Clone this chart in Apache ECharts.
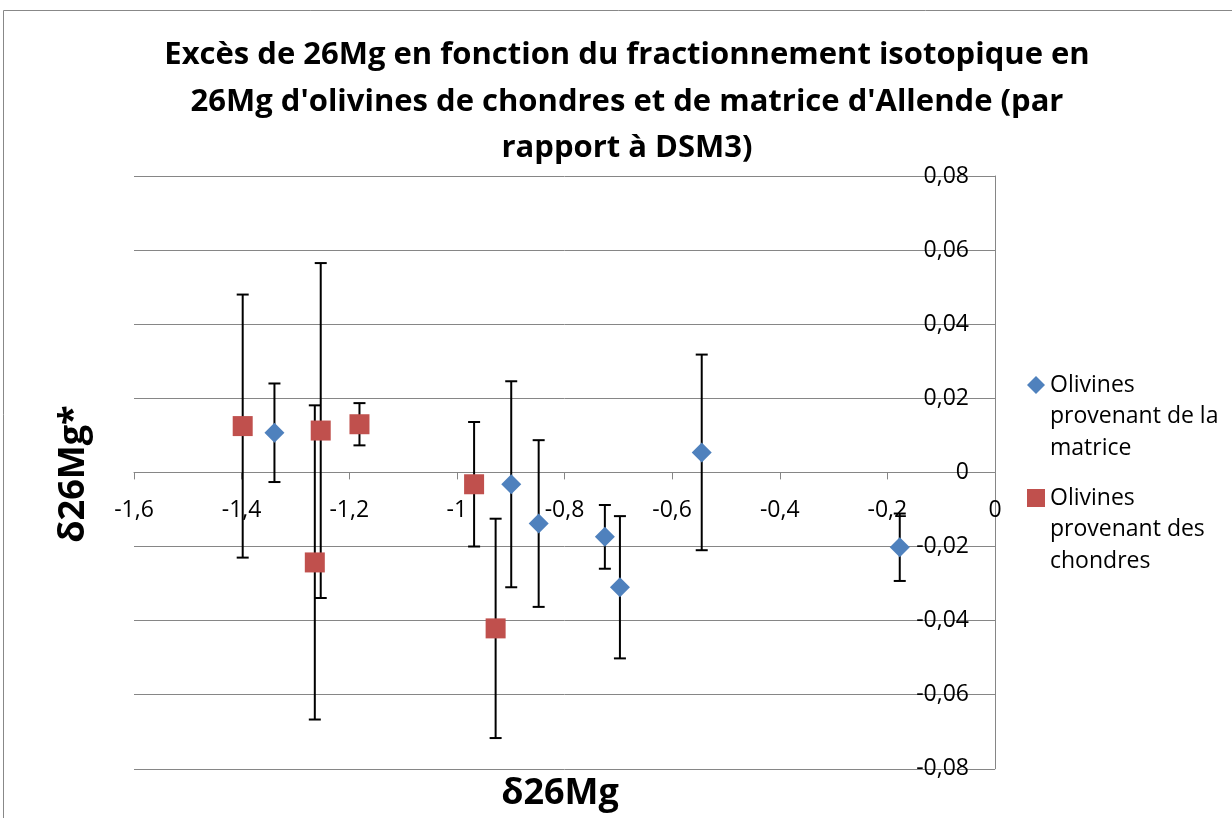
<!DOCTYPE html>
<html>
<head>
<meta charset="utf-8">
<script src="https://cdn.jsdelivr.net/npm/echarts@6/dist/echarts.min.js"></script>
<style>
html,body{margin:0;padding:0;background:#fff;}
#chart{width:1232px;height:818px;}
</style>
</head>
<body>
<div id="chart"></div>
<script>
// ---- Data ----
const matrixName = 'Olivines provenant de la matrice';
const chondresName = 'Olivines provenant des chondres';
const matrixX   = [-1.339, -0.899, -0.848, -0.725, -0.697, -0.545, -0.177];
const matrixY   = [0.0107, -0.0032, -0.0138, -0.0174, -0.0310, 0.0054, -0.0202];
const matrixErr = [0.0133, 0.0278, 0.0225, 0.0086, 0.0192, 0.0264, 0.0091];

const chondresX   = [-1.398, -1.264, -1.253, -1.181, -0.968, -0.928];
const chondresY   = [0.0125, -0.0243, 0.0113, 0.0130, -0.0032, -0.0421];
const chondresErr = [0.0355, 0.0424, 0.0452, 0.0057, 0.0168, 0.0296];

const xTickValues = [-1.6, -1.4, -1.2, -1, -0.8, -0.6, -0.4, -0.2, 0];
const xTickLabels = ['-1,6', '-1,4', '-1,2', '-1', '-0,8', '-0,6', '-0,4', '-0,2', '0'];
const yTickValues = [-0.08, -0.06, -0.04, -0.02, 0, 0.02, 0.04, 0.06, 0.08];
const yTickLabels = ['-0,08', '-0,06', '-0,04', '-0,02', '0', '0,02', '0,04', '0,06', '0,08'];

const titleText = "Excès de 26Mg en fonction du fractionnement isotopique en\n26Mg d'olivines de chondres et de matrice d'Allende (par\nrapport à DSM3)";
const xTitle = 'δ26Mg';
const yTitle = 'δ26Mg*';
const legendLines = {};
legendLines[matrixName] = ['Olivines', 'provenant de la', 'matrice'];
legendLines[chondresName] = ['Olivines', 'provenant des', 'chondres'];

// ---- Build ----
const FONT = '"Open Sans", "Liberation Sans", sans-serif';
const BLUE = '#4F81BD', RED = '#C0504D', GRID = '#868686';
const GRID_H = 592.8;

function zip3(a, b, c) { return a.map((v, i) => [v, b[i], c[i]]); }
function lookup(values, labels, v) {
  for (let i = 0; i < values.length; i++) if (Math.abs(values[i] - v) < 1e-9) return labels[i];
  return '';
}
function errRender(params, api) {
  const x = api.value(0), y = api.value(1), e = api.value(2);
  const t = api.coord([x, y + e]), b = api.coord([x, y - e]);
  const hw = 6;
  const st = { stroke: '#000', lineWidth: 2 };
  return {
    type: 'group',
    children: [
      { type: 'line', shape: { x1: t[0], y1: t[1], x2: b[0], y2: b[1] }, style: st },
      { type: 'line', shape: { x1: t[0] - hw, y1: t[1], x2: t[0] + hw, y2: t[1] }, style: st },
      { type: 'line', shape: { x1: b[0] - hw, y1: b[1], x2: b[0] + hw, y2: b[1] }, style: st }
    ]
  };
}
// two empty lines first so that the first real line sits on the icon's centre
function legendFmt(n) { const l = legendLines[n]; return '\n\n' + l.join('\n'); }

const LH = 31.7;
const legendBase = {
  orient: 'vertical',
  padding: 0,
  itemWidth: 18,
  itemHeight: 18,
  itemGap: 0,
  selectedMode: false,
  formatter: legendFmt,
  textStyle: { fontFamily: FONT, fontSize: 23, color: '#000', lineHeight: LH }
};

const chart = echarts.init(document.getElementById('chart'), null, { renderer: 'canvas' });
chart.setOption({
  backgroundColor: '#fff',
  animation: false,
  textStyle: { fontFamily: FONT },
  grid: { left: 134, top: 176, width: 861, height: GRID_H, containLabel: false },
  xAxis: {
    type: 'value', min: -1.6, max: 0, interval: 0.2, position: 'bottom',
    offset: -GRID_H / 2,
    axisLine: { show: true, onZero: false, lineStyle: { color: GRID, width: 1 } },
    axisTick: { show: true, length: 7, lineStyle: { color: GRID } },
    axisLabel: { margin: 27, fontSize: 23, color: '#000', fontFamily: FONT,
      formatter: v => lookup(xTickValues, xTickLabels, v) },
    splitLine: { show: false }
  },
  yAxis: {
    type: 'value', min: -0.08, max: 0.08, interval: 0.02, position: 'right',
    axisLine: { show: true, onZero: false, lineStyle: { color: GRID, width: 1 } },
    axisTick: { show: true, inside: true, length: 5, lineStyle: { color: GRID } },
    axisLabel: { inside: true, margin: 26, fontSize: 23, color: '#000', fontFamily: FONT,
      formatter: v => lookup(yTickValues, yTickLabels, v) },
    splitLine: { show: true, lineStyle: { color: GRID, width: 1 } }
  },
  legend: [
    Object.assign({}, legendBase, { data: [{ name: matrixName, icon: 'diamond' }], left: 1027, top: 385 - 2.5 * LH }),
    Object.assign({}, legendBase, { data: [{ name: chondresName, icon: 'rect' }], left: 1027, top: 498 - 2.5 * LH })
  ],
  graphic: [
    { type: 'rect', silent: true, z: -10, shape: { x: 3.5, y: 10.5, width: 1400, height: 1000 },
      style: { fill: 'none', stroke: '#888', lineWidth: 1 } },
    { type: 'text', x: 627, y: 102, style: { text: titleText, align: 'center', verticalAlign: 'middle',
      font: 'bold 31px ' + FONT, lineHeight: 46.5, fill: '#000' } },
    { type: 'text', x: 560, y: 794, style: { text: xTitle, align: 'center', verticalAlign: 'middle',
      font: 'bold 36px ' + FONT, fill: '#000' } },
    { type: 'text', x: 74, y: 474, rotation: Math.PI / 2, style: { text: yTitle, align: 'center', verticalAlign: 'middle',
      font: 'bold 36px ' + FONT, fill: '#000' } }
  ],
  series: [
    { name: 'err-matrice', type: 'custom', renderItem: errRender, data: zip3(matrixX, matrixY, matrixErr),
      encode: { x: 0, y: 1 }, z: 2, silent: true },
    { name: 'err-chondres', type: 'custom', renderItem: errRender, data: zip3(chondresX, chondresY, chondresErr),
      encode: { x: 0, y: 1 }, z: 2, silent: true },
    { name: matrixName, type: 'scatter', symbol: 'diamond', symbolSize: 20, z: 5,
      itemStyle: { color: BLUE, opacity: 1 }, data: matrixX.map((x, i) => [x, matrixY[i]]) },
    { name: chondresName, type: 'scatter', symbol: 'rect', symbolSize: 20, z: 5,
      itemStyle: { color: RED, opacity: 1 }, data: chondresX.map((x, i) => [x, chondresY[i]]) }
  ]
});
</script>
</body>
</html>
